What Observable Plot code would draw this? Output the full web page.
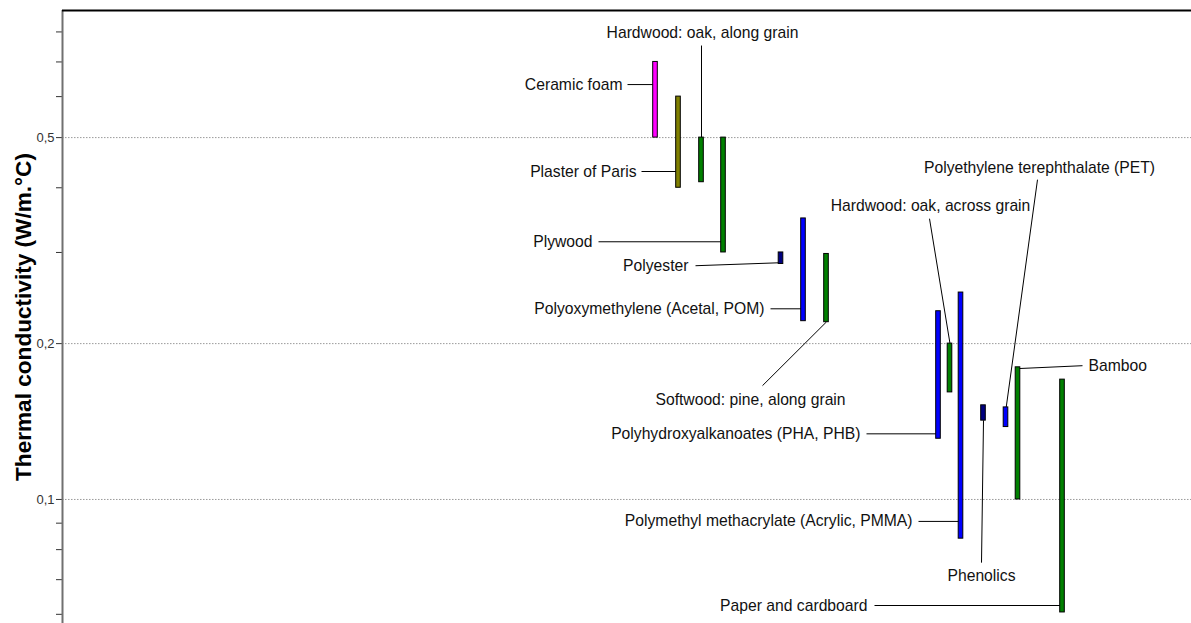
<!DOCTYPE html>
<html><head><meta charset="utf-8">
<script src="https://cdn.jsdelivr.net/npm/d3@7"></script>
<script src="https://cdn.jsdelivr.net/npm/@observablehq/plot@0.6"></script>
<style>body{margin:0;background:#fff;}</style>
</head><body><div id="chart"></div>
<script>
// Materials (bar ranges of thermal conductivity, W/m.°C)
const materials = ["Ceramic foam","Plaster of Paris","Hardwood: oak, along grain","Plywood","Polyester",
  "Polyoxymethylene (Acetal, POM)","Softwood: pine, along grain","Polyhydroxyalkanoates (PHA, PHB)",
  "Hardwood: oak, across grain","Polymethyl methacrylate (Acrylic, PMMA)","Phenolics",
  "Polyethylene terephthalate (PET)","Bamboo","Paper and cardboard"];
const family = ["Foams","Non-technical ceramics","Natural materials","Natural materials","Thermosets",
  "Thermoplastics","Natural materials","Thermoplastics","Natural materials","Thermoplastics","Thermosets",
  "Thermoplastics","Natural materials","Natural materials"];
const column = [59.3,61.6,63.9,66.1,71.85,74.1,76.4,87.6,88.75,89.85,92.1,94.35,95.55,100.0];
const kLow  = [0.50,0.40,0.41,0.30,0.285,0.221,0.22,0.131,0.161,0.084,0.142,0.138,0.100,0.0605];
const kHigh = [0.70,0.60,0.50,0.50,0.30,0.349,0.298,0.231,0.20,0.251,0.152,0.1506,0.18,0.1704];

// Y axis ticks
const yTicks = [0.06,0.07,0.08,0.09,0.1,0.2,0.3,0.4,0.5,0.6,0.7,0.8];
const yLabelled = [0.1,0.2,0.5];
const yTitle = "Thermal conductivity (W/m.°C)";

// Annotation layout: label anchor and leader line (start -> end on bar)
const labelX = [56.0,57.4,64.0,53.0,62.6,70.2,68.8,79.8,86.8,85.0,91.9,97.7,102.6,80.5];
const labelY = [0.633,0.43,0.795,0.3146,0.2828,0.2335,0.1559,0.1339,0.369,0.0907,0.0713,0.437,0.1813,0.0624];
const labelAnchor = ["end","end","middle","end","end","end","middle","end","middle","end","middle","middle","start","end"];
const leadX1 = [56.5,57.9,63.9,53.6,63.3,70.8,70.0,80.4,86.7,85.6,91.9,97.5,102.0,81.2];
const leadY1 = [0.633,0.43,0.753,0.3146,0.2828,0.2335,0.1659,0.1339,0.3486,0.0907,0.0755,0.4147,0.1813,0.0624];
const leadX2 = [59.3,61.6,63.9,66.1,71.8,74.1,76.4,87.6,88.75,89.85,92.1,94.37,95.6,100.0];
const leadY2 = [0.633,0.43,0.50,0.3146,0.2866,0.2335,0.2203,0.1339,0.20,0.0907,0.1422,0.1506,0.179,0.0624];

const families = ["Foams","Non-technical ceramics","Natural materials","Thermoplastics","Thermosets"];
const familyColors = ["#ff00ff","#808000","#008000","#0000ff","#000080"];

const data = materials.map((name,i)=>({
  name, family: family[i], x: column[i], lo: kLow[i], hi: kHigh[i],
  lx: labelX[i], ly: labelY[i], anchor: labelAnchor[i],
  sx: leadX1[i], sy: leadY1[i], ex: leadX2[i], ey: leadY2[i]
}));

const halfW = 0.23;
const textOpts = {x:"lx", y:"ly", text:"name", lineAnchor:"middle", fill:"#111", fontSize:15.7};

const chart = Plot.plot({
  width:1191, height:623, marginLeft:62, marginRight:0, marginTop:10, marginBottom:0,
  style:{fontFamily:"'Liberation Sans', Arial, sans-serif", fontSize:"15px", background:"#fff", color:"#000"},
  x:{domain:[0,112.9], axis:null},
  y:{type:"log", domain:[0.0576,0.880], axis:null},
  color:{domain:families, range:familyColors},
  marks:[
    Plot.gridY(yLabelled, {stroke:"#9a9a9a", strokeOpacity:1, strokeDasharray:"1.5,1.5"}),
    Plot.axisY({ticks:yTicks, tickFormat:d => yLabelled.includes(d) ? String(d).replace(".", ",") : "",
      tickSize:6, tickPadding:2, fontSize:13, color:"#333"}),
    Plot.ruleX([0], {stroke:"#707070", strokeWidth:2}),
    Plot.ruleY([0.880], {stroke:"#000", strokeWidth:2}),
    Plot.link(data, {x1:"sx", y1:"sy", x2:"ex", y2:"ey", stroke:"#000", strokeWidth:1}),
    Plot.rect(data, {x1:d=>d.x-halfW, x2:d=>d.x+halfW, y1:"lo", y2:"hi", fill:"family", stroke:"#000", strokeWidth:1}),
    Plot.text(data.filter(d=>d.anchor==="end"), {...textOpts, textAnchor:"end"}),
    Plot.text(data.filter(d=>d.anchor==="middle"), {...textOpts, textAnchor:"middle"}),
    Plot.text(data.filter(d=>d.anchor==="start"), {...textOpts, textAnchor:"start"}),
    Plot.text([yTitle], {frameAnchor:"left", dx:-39, rotate:-90, fontSize:22.6, fontWeight:"bold",
      textAnchor:"middle", lineAnchor:"middle", fill:"#000"})
  ]
});
document.getElementById("chart").appendChild(chart);
</script>
</body></html>
